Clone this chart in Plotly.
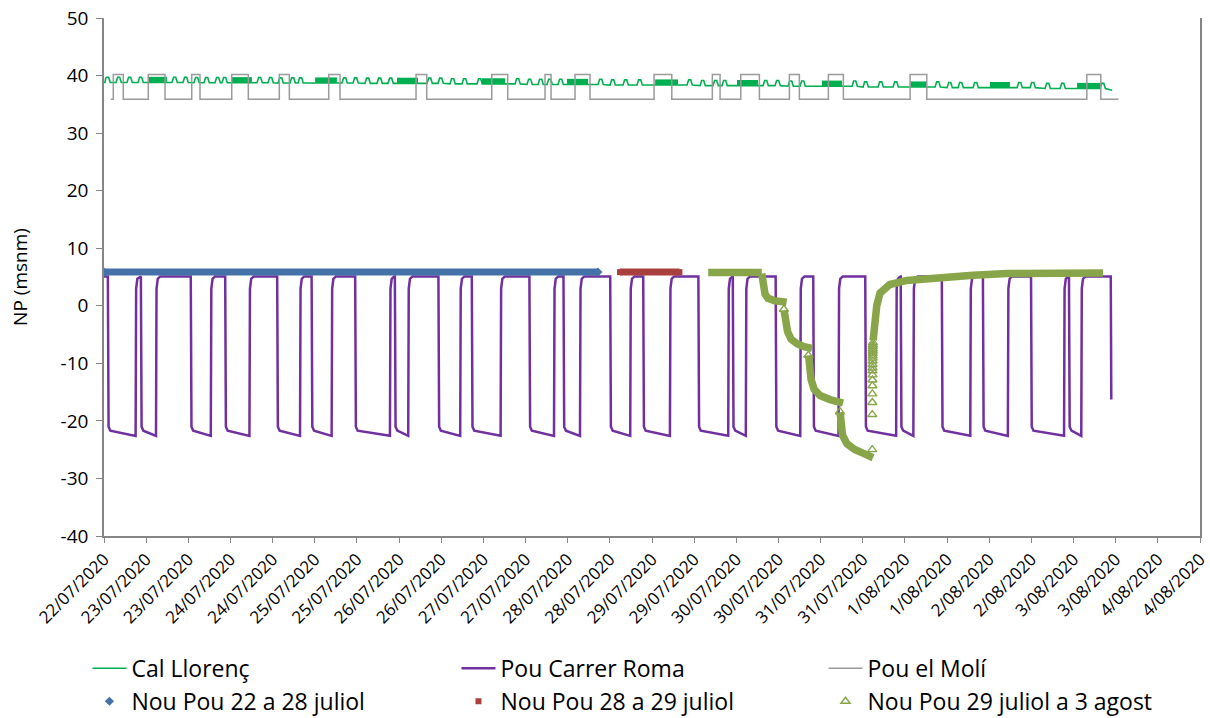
import plotly.graph_objects as go
from datetime import datetime, timedelta

T0 = datetime(2020, 7, 22, 12, 0)   # left edge of the x axis

# ---------------- Pou Carrer Roma : pump start / stop (hours after T0) ----------------
roma_on_h = [1.1, 10.5, 24.7, 34.5, 49.3, 59.1, 71.5, 82.8, 95.2, 104.7, 121.1, 130.8,
             144.1, 153.5, 169.2, 179.0, 191.2, 201.9, 216.7, 226.8, 238.5, 250.2,
             263.9, 274.7, 286.6]
roma_off_h = [9.0, 14.8, 30.4, 41.4, 55.8, 64.8, 81.4, 86.6, 101.4, 112.9, 128.1, 135.5,
              149.8, 161.1, 177.7, 182.7, 198.2, 209.1, 225.5, 230.4, 246.6, 257.3,
              273.3, 278.2]
roma_levels = {"rest": 5.1, "low_first": -21.7, "low_last": -22.6, "last": -16.3}

# ---------------- Pou el Molí : high-level windows (hours after T0) ----------------
moli_high_start_h = [2.65, 12.61, 24.97, 36.36, 49.91, 63.97, 88.83, 110.38, 125.55,
                     134.09, 156.59, 173.18, 181.27, 195.11, 206.21, 229.47, 279.78]
moli_high_end_h = [5.49, 17.37, 27.33, 41.08, 52.76, 67.19, 91.87, 114.93, 127.26,
                   138.36, 161.63, 175.38, 186.57, 197.95, 210.48, 234.22, 283.76]
moli_span_h = [1.9, 288.8]
moli_levels = [35.9, 40.2]

# ---------------- Cal Llorenç ----------------
llorenc_base_day = [38.8, 38.75, 38.7, 38.65, 38.55, 38.45, 38.35, 38.25, 38.15,
                    38.0, 37.9, 37.75, 37.6]
llorenc_bump_h = [0.28, 3.42, 6.55, 9.68, 19.36, 22.49, 25.62, 28.47, 31.60, 33.60,
                  43.56, 46.69, 49.54, 52.96, 55.23, 67.76, 70.89, 74.30, 77.72, 80.85,
                  91.96, 95.09, 98.50, 101.92, 106.19, 117.01, 120.42, 123.56, 126.12,
                  129.25, 140.64, 144.06, 147.76, 151.74, 165.98, 169.68, 173.38,
                  175.94, 187.62, 191.03, 194.73, 198.15, 212.96, 216.09, 220.36,
                  224.63, 236.59, 240.00, 243.13, 247.40, 259.93, 263.63, 267.90,
                  272.17, 283.56]
llorenc_band_start_h = [12.5, 36.4, 60.1, 83.4, 107.6, 131.8, 156.9, 180.2, 204.4,
                        229.5, 252.2, 277.0]
llorenc_band_end_h = [17.9, 42.1, 66.3, 89.4, 114.2, 137.8, 163.4, 186.2, 210.1,
                      234.3, 257.9, 283.6]
llorenc_span_h = [0.0, 287.0]
llorenc_end_val = 37.45

# ---------------- Nou Pou series ----------------
nou1_h = [0.0, 140.6]
nou1_v = [5.85, 5.85]
nou2_h = [146.9, 163.8]
nou2_v = [5.85, 5.85]
nou3_h = [172.0, 187.25, None,
          187.25, 187.62, 188.19, 189.04, 190.75, 194.31, None,
          193.60, 194.02, 194.59, 195.59, 197.30, 199.29, 201.57, None,
          200.57, 200.85, 201.28, 202.14, 203.85, 206.69, 210.39, None,
          209.54, 209.77, 210.25, 211.53, 213.81, 216.37, 218.93, None,
          218.95, 219.30, 219.98, 220.90, 222.30, 223.70, 228.50, 238.00, 247.40,
          257.10, 271.30, 284.40]
nou3_v = [5.8, 5.8, None,
          5.6, 3.2, 2.0, 1.3, 0.9, 0.6, None,
          -0.8, -2.6, -4.5, -5.8, -6.6, -7.1, -7.4, None,
          -8.6, -10.8, -12.8, -14.5, -15.6, -16.3, -16.9, None,
          -18.5, -20.5, -22.5, -24.0, -25.0, -25.7, -26.4, None,
          -6.0, -2.5, 0.0, 2.2, 3.1, 3.7, 4.4, 5.0, 5.3, 5.6, 5.7, 5.7]
nou3_iso_h = [193.55, 200.50, 209.50, 218.70, 218.71, 218.72, 218.73, 218.74, 218.75,
              218.76, 218.77, 218.78, 218.79, 218.80, 218.81, 218.82, 218.83, 218.84,
              218.85, 218.86, 218.87, 218.88]
nou3_iso_v = [-0.6, -8.6, -18.4, -25.0, -18.9, -16.8, -15.3, -13.9, -12.9, -12.0,
              -11.3, -10.8, -10.2, -9.6, -9.1, -8.7, -8.3, -7.9, -7.5, -7.1, -6.8, -6.4]

y_ticks = [-40, -30, -20, -10, 0, 10, 20, 30, 40, 50]
y_tick_text = ["-40", "-30", "-20", "-10", "0", "10", "20", "30", "40", "50"]


def tt(hs):
    return [None if h is None else T0 + timedelta(hours=h) for h in hs]


# ---- build Pou Carrer Roma polyline from the read pump events ----
rest = roma_levels["rest"]
rx, ry = [0.0], [rest]
for i, on in enumerate(roma_on_h):
    rx.append(on); ry.append(rest)
    if i < len(roma_off_h):
        off = roma_off_h[i]
        rx += [on + 0.2, on + 0.7, off]
        ry += [roma_levels["low_first"] + 0.7, roma_levels["low_first"], roma_levels["low_last"]]
        nxt = roma_on_h[i + 1]
        for dh, v in [(0.15, 3.0), (0.5, 4.7), (1.2, rest)]:
            if off + dh < nxt:
                rx.append(off + dh); ry.append(v)
    else:
        rx.append(on + 0.15); ry.append(roma_levels["last"])

# ---- build Pou el Molí polyline ----
lo, hi = moli_levels
mx, my = [moli_span_h[0]], [lo]
for s, e in zip(moli_high_start_h, moli_high_end_h):
    mx += [s, s, e, e]; my += [lo, hi, hi, lo]
mx.append(moli_span_h[1]); my.append(lo)


# ---- build Cal Llorenç polyline ----
def base(h):
    return llorenc_base_day[min(int(h // 24), len(llorenc_base_day) - 1)]


lx, ly = [llorenc_span_h[0]], [base(0)]
for h in llorenc_bump_h:
    b = base(h)
    for dh, dv in [(0.0, 0.0), (0.2, 0.75), (0.45, 0.9), (1.05, 0.9), (1.35, 0.2), (1.5, 0.0)]:
        lx.append(h + dh); ly.append(b + dv)
lx.append(llorenc_span_h[1]); ly.append(llorenc_end_val)

bx, by = [], []
for s, e in zip(llorenc_band_start_h, llorenc_band_end_h):
    b = base(s)
    bx += [s, e, None]; by += [b + 0.5, b + 0.5, None]

GREEN = "#00B050"
PURPLE = "#7030A0"
GREY = "#9A9A9A"
BLUE = "#4472A8"
RED = "#A9403D"
OLIVE = "#88A54A"
FONT = "Open Sans"

fig = go.Figure()
fig.add_trace(go.Scatter(x=tt(lx), y=ly, mode="lines", name="Cal Llorenç", legend="legend",
                         line=dict(color=GREEN, width=1.6)))
fig.add_trace(go.Scatter(x=tt(bx), y=by, mode="lines", showlegend=False,
                         line=dict(color=GREEN, width=5.5), hoverinfo="skip"))
fig.add_trace(go.Scatter(x=tt(rx), y=ry, mode="lines", name="Pou Carrer Roma", legend="legend2",
                         line=dict(color=PURPLE, width=2.5)))
fig.add_trace(go.Scatter(x=tt(mx), y=my, mode="lines", name="Pou el Molí", legend="legend3",
                         line=dict(color=GREY, width=1.5)))

# bands of densely logged Nou Pou readings
fig.add_trace(go.Scatter(x=tt(nou1_h), y=nou1_v, mode="lines", showlegend=False,
                         line=dict(color=BLUE, width=7), hoverinfo="skip"))
fig.add_trace(go.Scatter(x=tt(nou2_h), y=nou2_v, mode="lines", showlegend=False,
                         line=dict(color=RED, width=7), hoverinfo="skip"))
fig.add_trace(go.Scatter(x=tt(nou3_h), y=nou3_v, mode="lines", showlegend=False,
                         line=dict(color=OLIVE, width=7.5), hoverinfo="skip"))

fig.add_trace(go.Scatter(x=tt(nou1_h), y=nou1_v, mode="markers", name="Nou Pou 22 a 28 juliol",
                         legend="legend", marker=dict(symbol="diamond", size=7, color=BLUE)))
fig.add_trace(go.Scatter(x=tt(nou2_h), y=nou2_v, mode="markers", name="Nou Pou 28 a 29 juliol",
                         legend="legend2", marker=dict(symbol="square", size=6, color=RED)))
fig.add_trace(go.Scatter(x=tt(nou3_iso_h), y=nou3_iso_v, mode="markers",
                         name="Nou Pou 29 juliol a 3 agost", legend="legend3",
                         marker=dict(symbol="triangle-up-open", size=8, color=OLIVE,
                                     line=dict(width=1.4, color=OLIVE))))

leg_common = dict(orientation="v", y=-0.214, xanchor="left", yanchor="top",
                  font=dict(family=FONT, size=23, color="black"), itemwidth=34,
                  itemsizing="trace", traceorder="normal", tracegroupgap=0,
                  bgcolor="rgba(0,0,0,0)")

fig.update_layout(
    width=1210, height=718,
    margin=dict(l=104, r=10, t=18, b=182, autoexpand=False),
    plot_bgcolor="white", paper_bgcolor="white",
    font=dict(family=FONT, size=18, color="black"),
    legend=dict(x=-0.0151, **leg_common),
    legend2=dict(x=0.3216, **leg_common),
    legend3=dict(x=0.6565, **leg_common),
)
fig.update_xaxes(type="date", range=[T0, T0 + timedelta(days=13)], tick0=T0,
                 dtick=43200000, tickformat="%-d/%m/%Y", tickangle=-45,
                 ticks="outside", ticklen=5, tickcolor="#868686",
                 showline=True, linecolor="#868686", linewidth=1.5,
                 showgrid=False, zeroline=False, automargin=False,
                 ticklabeloverflow="allow",
                 tickfont=dict(family=FONT, size=17, color="black"))
fig.update_yaxes(range=[-40, 50], tickmode="array", tickvals=y_ticks, ticktext=y_tick_text,
                 ticks="outside", ticklen=6, tickcolor="#868686", ticklabelstandoff=4,
                 showline=True, linecolor="#868686", linewidth=1.5, mirror=True,
                 showgrid=False, zeroline=False, automargin=False,
                 ticklabeloverflow="allow",
                 tickfont=dict(family=FONT, size=19, color="black"),
                 title=dict(text="NP (msnm)", font=dict(family=FONT, size=19, color="black"),
                            standoff=28))

# remove the browser's default 8 px page margin so the figure fills the window exactly
fig.write_html("out.html",
               config={"displayModeBar": False},
               post_script="document.body.style.margin='0';document.body.style.overflow='hidden';")
